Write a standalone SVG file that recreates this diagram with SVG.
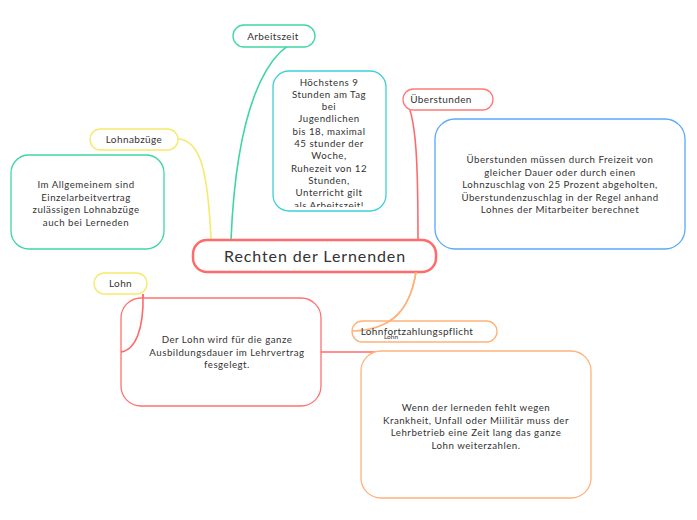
<svg xmlns="http://www.w3.org/2000/svg" width="697" height="520" viewBox="0 0 697 520">
<style>
text{font-family:Lato,"Open Sans","DejaVu Sans",sans-serif;fill:#333;text-anchor:middle}
.s{font-size:9.7px;letter-spacing:0.5px}
.t{font-size:10px;letter-spacing:0.4px}
rect{fill:#fff}
.c{fill:none;stroke-width:1.6}
</style>
<defs>
<clipPath id="hclip"><rect x="274" y="72" width="111" height="135"/></clipPath>
</defs>
<rect width="697" height="520" fill="#fff"/>
<g id="connectors">
<path class="c" d="M231 240 C236 120 262 40 314 36" stroke="#3fd6a4"/>
<path class="c" d="M418 240 C418 170 417 112 404 98" stroke="#ff6b6b"/>
<path class="c" d="M211 240 C208 170 200 140 178 139" stroke="#f5ea6a"/>
<path class="c" d="M416 272 C410 310 392 330 352 331" stroke="#ffb27a"/>
<path class="c" d="M143 294 C144 330 135 350 121 352" stroke="#ff6b6b"/>
<path class="c" d="M321 352 L375 352" stroke="#ff6b6b"/>
</g>
<g id="arbeitszeit">
<rect x="233" y="25" width="82" height="22" rx="11" stroke="#3fd6a4" stroke-width="1.3"/>
<text x="273" y="39.5" class="t">Arbeitszeit</text>
</g>
<g id="hoechstens">
<rect x="273" y="71" width="113" height="140" rx="16" stroke="#3ed0d8" stroke-width="1.3"/>
<g clip-path="url(#hclip)" class="s">
<text x="329" y="85.5">Höchstens 9</text>
<text x="329" y="97.8">Stunden am Tag</text>
<text x="329" y="110.1">bei</text>
<text x="329" y="122.4">Jugendlichen</text>
<text x="329" y="134.7">bis 18, maximal</text>
<text x="329" y="147">45 stunder der</text>
<text x="329" y="159.3">Woche,</text>
<text x="329" y="171.6">Ruhezeit von 12</text>
<text x="329" y="183.9">Stunden,</text>
<text x="329" y="196.2">Unterricht gilt</text>
<text x="329" y="208.5">als Arbeitszeit!</text>
</g>
</g>
<g id="ueberstunden">
<rect x="403" y="89" width="90" height="21" rx="10.5" stroke="#ff7a7a" stroke-width="1.3"/>
<text x="441" y="103" class="t">Überstunden</text>
</g>
<g id="ueberstunden-text">
<rect x="435" y="119" width="250" height="130" rx="20" stroke="#5aa9f5" stroke-width="1.3"/>
<text x="560" y="163" class="s">Überstunden müssen durch Freizeit von</text>
<text x="560" y="175.5" class="s">gleicher Dauer oder durch einen</text>
<text x="560" y="188" class="s">Lohnzuschlag von 25 Prozent abgeholten,</text>
<text x="560" y="200.5" class="s">Überstundenzuschlag in der Regel anhand</text>
<text x="560" y="213" class="s">Lohnes der Mitarbeiter berechnet</text>
</g>
<g id="lohnabzuege">
<rect x="90" y="129" width="88" height="21" rx="10.5" stroke="#f5ea6a" stroke-width="1.3"/>
<text x="134" y="143" class="t">Lohnabzüge</text>
</g>
<g id="lohnabzuege-text">
<rect x="11" y="155" width="153" height="94" rx="18" stroke="#3fd6a4" stroke-width="1.3"/>
<text x="86" y="188" class="s">Im Allgemeinem sind</text>
<text x="86" y="200.5" class="s">Einzelarbeitvertrag</text>
<text x="86" y="213" class="s">zulässigen Lohnabzüge</text>
<text x="86" y="225.5" class="s">auch bei Lerneden</text>
</g>
<g id="center">
<rect x="193" y="240" width="243" height="32" rx="14" stroke="#ff6b6b" stroke-width="2.5"/>
<text x="315" y="262" style="font-size:16px;letter-spacing:0.9px">Rechten der Lernenden</text>
</g>
<g id="lohn">
<rect x="94" y="273" width="53" height="21" rx="10.5" stroke="#f5ea6a" stroke-width="1.3"/>
<text x="120.5" y="287" class="t">Lohn</text>
</g>
<g id="lohn-text">
<rect x="121" y="298" width="200" height="108" rx="20" stroke="#ff7070" stroke-width="1.3"/>
<path class="c" d="M143 294 C144 330 135 350 121 352" stroke="#ff6b6b"/>
<text x="227" y="343" class="s">Der Lohn wird für die ganze</text>
<text x="227" y="355.5" class="s">Ausbildungsdauer im Lehrvertrag</text>
<text x="227" y="368" class="s">fesgelegt.</text>
</g>
<g id="lohnfortzahlungspflicht">
<rect x="352" y="321" width="145" height="21" rx="10.5" stroke="#ffb27a" stroke-width="1.3"/>
<path class="c" d="M416 272 C410 310 392 330 352 331" stroke="#ffb27a"/>
<text x="417" y="335" class="t">Lohnfortzahlungspflicht</text>
<text x="391" y="339" style="font-size:6.5px">Lohn</text>
</g>
<g id="lohnfortzahlung-text">
<rect x="361" y="351" width="230" height="147" rx="20" stroke="#ffb27a" stroke-width="1.3"/>
<text x="476" y="411" class="s">Wenn der lerneden fehlt wegen</text>
<text x="476" y="423.5" class="s">Krankheit, Unfall oder Miilitär muss der</text>
<text x="476" y="436" class="s">Lehrbetrieb eine Zeit lang das ganze</text>
<text x="476" y="448.5" class="s">Lohn weiterzahlen.</text>
</g>
</svg>
